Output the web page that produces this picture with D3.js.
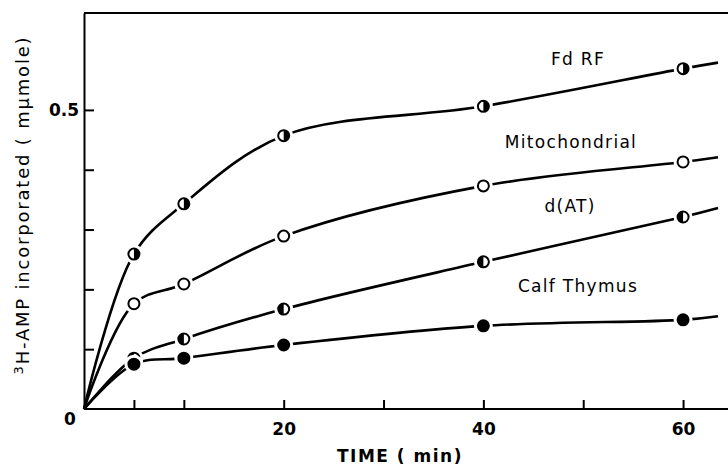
<html>
<head>
<meta charset="utf-8">
<style>
body { margin: 0; background: #fff; }
svg { font-family: "DejaVu Sans", sans-serif; }
</style>
</head>
<body>
<div id="plot"></div>
<script src="https://d3js.org/d3.v7.min.js"></script>
<script type="text/javascript">
// data (time in min, mumole incorporated)
var times = [0, 5, 10, 20, 40, 60, 63.5];
var fdRF = [0, 0.259, 0.343, 0.457, 0.506, 0.569, 0.579];
var mito = [0, 0.176, 0.209, 0.289, 0.373, 0.413, 0.421];
var dAT = [0, 0.085, 0.117, 0.167, 0.246, 0.321, 0.336];
var calf = [0, 0.075, 0.085, 0.107, 0.139, 0.149, 0.155];
var names = ["Fd RF", "Mitochondrial", "d(AT)", "Calf Thymus"];
var markers = ["right", "open", "left", "full"];
var xTicks = [5, 10, 20, 30, 40, 50, 60];
var yTicks = [0.1, 0.2, 0.3, 0.4, 0.5];

var width = 728, height = 470;

var svg = d3.select("#plot").append("svg")
  .attr("width", width)
  .attr("height", height)
  .style("background-color", "white");

var x = d3.scaleLinear().domain([0, 64.5]).range([84, 728]);
var y = d3.scaleLinear().domain([0, 0.662]).range([409, 13]);

// frame: left axis, top and bottom lines
svg.append("line").attr("x1", x(0)).attr("x2", 728).attr("y1", y(0.662)).attr("y2", y(0.662))
  .attr("stroke", "black").attr("stroke-width", 2);

var xAxis = svg.append("g")
  .attr("transform", "translate(0," + y(0) + ")")
  .call(d3.axisBottom(x).tickValues(xTicks).tickSizeInner(-9).tickSizeOuter(0).tickPadding(14)
    .tickFormat(function(d){ return (d % 20 == 0) ? d : ""; }));
var yAxis = svg.append("g")
  .attr("transform", "translate(" + x(0) + ",0)")
  .call(d3.axisLeft(y).tickValues(yTicks).tickSizeInner(-10).tickSizeOuter(0).tickPadding(5)
    .tickFormat(function(d){ return d == 0.5 ? "0.5" : ""; }));

[xAxis, yAxis].forEach(function(g){
  g.select(".domain").attr("stroke-width", 2);
  g.selectAll(".tick line").attr("stroke-width", 2);
  g.selectAll("text").attr("font-size", 17).attr("font-weight", "bold")
    .attr("font-family", "DejaVu Sans").attr("fill", "black");
});
xAxis.select(".domain").attr("d", "M" + x(0) + ",0H728");

svg.append("text").attr("x", 70).attr("y", 425).attr("text-anchor", "middle")
  .attr("font-size", 17).attr("font-weight", "bold").text("0");

// axis titles
svg.append("text").attr("x", 400).attr("y", 462).attr("text-anchor", "middle")
  .attr("font-size", 17).attr("font-weight", "bold").attr("letter-spacing", 1.5)
  .text("TIME ( min)");

var yl = svg.append("text")
  .attr("transform", "translate(29,205) rotate(-90)")
  .attr("text-anchor", "middle")
  .attr("font-size", 18).attr("letter-spacing", 1.8);
yl.append("tspan").attr("font-size", 13).attr("dy", -6).text("3");
yl.append("tspan").attr("dy", 6).text("H-AMP  incorporated ( mμmole)");

// curves
var series = [fdRF, mito, dAT, calf];
var line = d3.line()
  .x(function(d, i){ return x(times[i]); })
  .y(function(d){ return y(d); })
  .curve(d3.curveCatmullRom.alpha(0.5));

series.forEach(function(s){
  svg.append("path").attr("d", line(s))
    .attr("fill", "none").attr("stroke", "black").attr("stroke-width", 2.6);
});

// markers with a white gap around them
var r = 5.5;
series.forEach(function(s, k){
  var pts = s.map(function(v, i){ return [times[i], v]; })
    .filter(function(p){ return p[0] > 0 && p[0] <= 60; });
  var g = svg.append("g");
  pts.forEach(function(p){
    var cx = x(p[0]), cy = y(p[1]);
    g.append("circle").attr("cx", cx).attr("cy", cy).attr("r", r + 4).attr("fill", "white");
    g.append("circle").attr("cx", cx).attr("cy", cy).attr("r", r)
      .attr("fill", markers[k] == "full" ? "black" : "white")
      .attr("stroke", "black").attr("stroke-width", 2);
    if (markers[k] == "right" || markers[k] == "left") {
      var sweep = markers[k] == "right" ? 1 : 0;
      g.append("path")
        .attr("d", "M" + cx + "," + (cy - r) + "A" + r + "," + r + " 0 0 " + sweep + " " + cx + "," + (cy + r) + "Z")
        .attr("fill", "black");
    }
  });
});

// curve labels
var labelPos = [[578, 65], [571, 148], [570, 212], [578, 292]];
names.forEach(function(n, k){
  svg.append("text").attr("x", labelPos[k][0]).attr("y", labelPos[k][1])
    .attr("text-anchor", "middle").attr("font-size", 17).attr("letter-spacing", 1.3)
    .text(n);
});
</script>
</body>
</html>
